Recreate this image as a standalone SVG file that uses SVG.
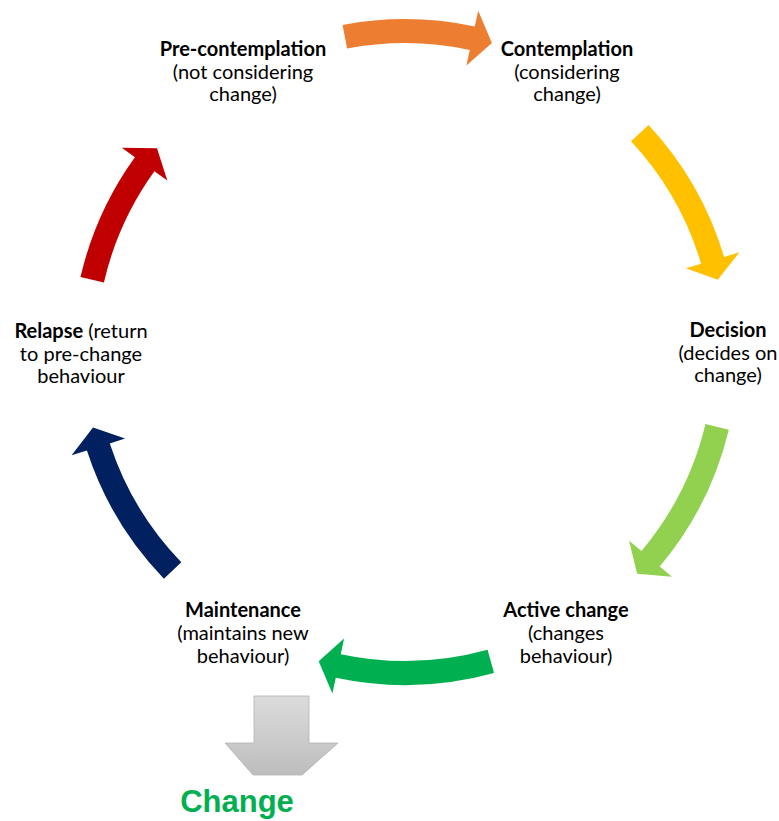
<svg xmlns="http://www.w3.org/2000/svg" width="779" height="821" viewBox="0 0 779 821">
  <defs>
    <linearGradient id="grayGrad" x1="0" y1="0" x2="0" y2="1">
      <stop offset="0" stop-color="#dcdcdc"/>
      <stop offset="1" stop-color="#bdbdbd"/>
    </linearGradient>
  </defs>
  <style>
    .lbl { font-family: Lato, "Open Sans", sans-serif; font-size: 20px; fill: #000; text-anchor: middle; }
    .b { font-weight: bold; }
    .big { font-family: "Liberation Sans", Arial, sans-serif; font-size: 31px; font-weight: bold; fill: #00B050; text-anchor: middle; }
  </style>
  <rect width="779" height="821" fill="#ffffff"/>

  <g id="connectors">
    <path id="arrow-orange" fill="#ED7D31" d="M342.6,24.9 A333,333 0 0 1 474.8,26.4 L478.2,10.7 L491.9,43.0 L466.4,65.5 L469.8,49.9 A309,309 0 0 0 347.1,48.5 Z"/>
    <path id="arrow-yellow" fill="#FFC000" d="M648.6,124.9 A333,333 0 0 1 724.1,256.9 L739.4,252.3 L717.8,279.8 L685.8,268.3 L701.1,263.7 A309,309 0 0 0 631.0,141.3 Z"/>
    <path id="arrow-lime" fill="#92D050" d="M728.8,429.7 A333,333 0 0 1 659.7,566.5 L671.9,576.8 L637.1,573.8 L629.1,540.7 L641.4,551.0 A309,309 0 0 0 705.5,424.1 Z"/>
    <path id="arrow-green" fill="#00B050" d="M494.0,672.9 A333,333 0 0 1 335.8,677.7 L332.4,693.4 L318.7,661.2 L344.1,638.6 L340.8,654.2 A309,309 0 0 0 487.6,649.8 Z"/>
    <path id="arrow-navy" fill="#002060" d="M163.9,578.7 A333,333 0 0 1 86.9,450.5 L71.6,455.2 L93.0,427.5 L125.1,438.6 L109.8,443.4 A309,309 0 0 0 181.3,562.3 Z"/>
    <path id="arrow-red" fill="#C00000" d="M80.5,277.1 A333,333 0 0 1 134.9,157.2 L121.9,147.8 L157.0,148.3 L167.3,180.6 L154.4,171.2 A309,309 0 0 0 103.9,282.5 Z"/>
  </g>

  <g id="node-precontemplation">
    <text class="lbl" x="243" y="56"><tspan class="b">Pre-contemplation</tspan></text>
    <text class="lbl" x="243" y="78.5">(not considering</text>
    <text class="lbl" x="243" y="101">change)</text>
  </g>

  <g id="node-contemplation">
    <text class="lbl" x="567" y="56"><tspan class="b">Contemplation</tspan></text>
    <text class="lbl" x="567" y="78.5">(considering</text>
    <text class="lbl" x="567" y="101">change)</text>
  </g>

  <g id="node-decision">
    <text class="lbl" x="728" y="337"><tspan class="b">Decision</tspan></text>
    <text class="lbl" x="728" y="359.5">(decides on</text>
    <text class="lbl" x="728" y="382">change)</text>
  </g>

  <g id="node-active">
    <text class="lbl" x="566" y="617"><tspan class="b">Active change</tspan></text>
    <text class="lbl" x="566" y="640">(changes</text>
    <text class="lbl" x="566" y="662.5">behaviour)</text>
  </g>

  <g id="node-maintenance">
    <text class="lbl" x="243" y="617"><tspan class="b">Maintenance</tspan></text>
    <text class="lbl" x="243" y="640">(maintains new</text>
    <text class="lbl" x="243" y="662.5">behaviour)</text>
  </g>

  <g id="node-relapse">
    <text class="lbl" x="81" y="338"><tspan class="b">Relapse</tspan> (return</text>
    <text class="lbl" x="81" y="360.5">to pre-change</text>
    <text class="lbl" x="81" y="383">behaviour</text>
  </g>

  <g id="node-change">
    <path fill="url(#grayGrad)" stroke="#b3b3b3" stroke-width="0.8" d="M254,696 L309,696 L309,743 L338,743 L302,775 L253,775 L225,743 L254,743 Z"/>
    <text class="big" x="237" y="812">Change</text>
  </g>
</svg>
